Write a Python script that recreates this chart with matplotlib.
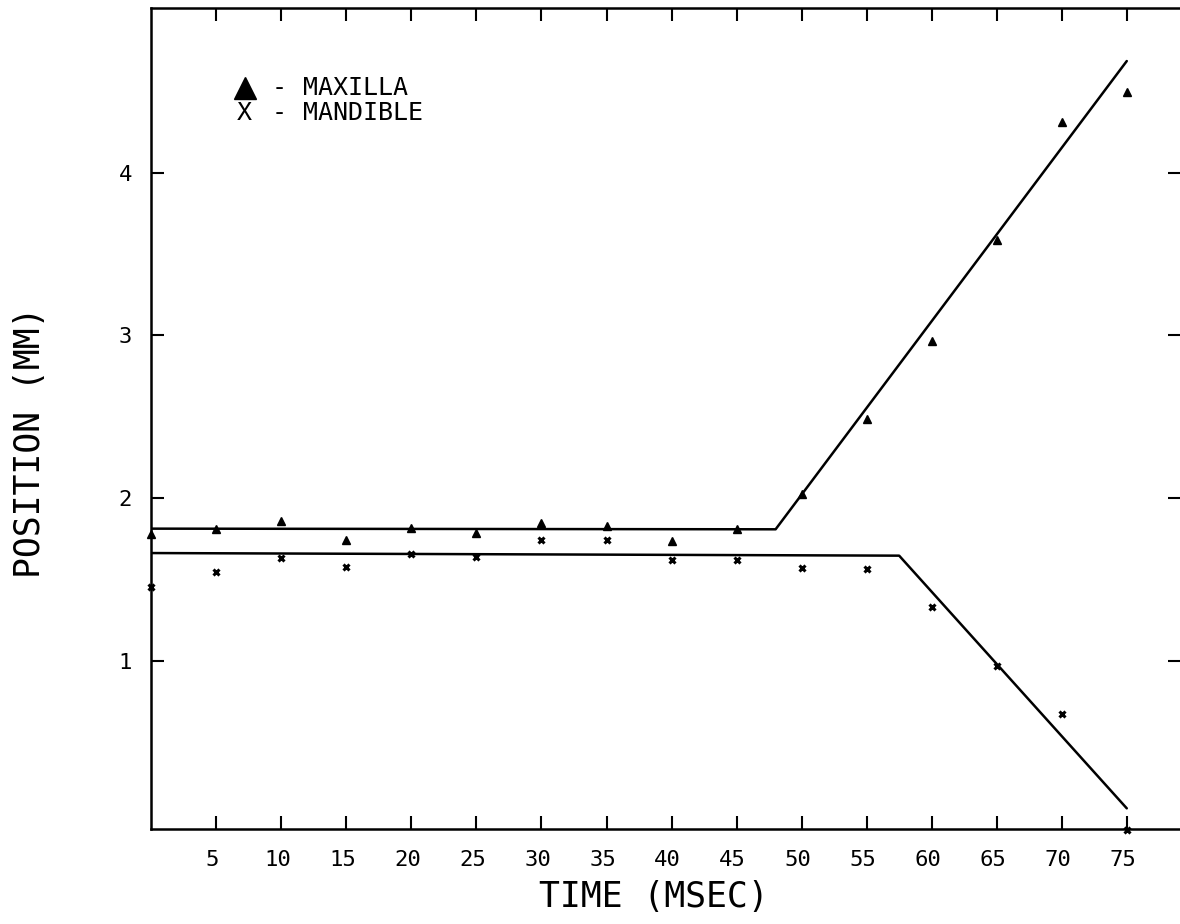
import matplotlib
matplotlib.use("Agg")
import matplotlib.pyplot as plt
from matplotlib.ticker import FixedLocator
from matplotlib.transforms import ScaledTranslation

# Jaw position over time
time_ms = [0, 5, 10, 15, 20, 25, 30, 35, 40, 45, 50, 55, 60, 65, 70, 75]
maxilla_mm = [1.777, 1.809, 1.859, 1.742, 1.814, 1.787, 1.848, 1.828,
              1.736, 1.809, 2.023, 2.484, 2.965, 3.586, 4.309, 4.494]
mandible_mm = [1.451, 1.545, 1.629, 1.574, 1.654, 1.639, 1.740, 1.740,
               1.619, 1.619, 1.568, 1.564, 1.332, 0.967, 0.672, -0.04]

# Piecewise linear fits (break points)
maxilla_fit_t = [0, 48, 75]
maxilla_fit_mm = [1.812, 1.808, 4.686]
mandible_fit_t = [0, 57.5, 75]
mandible_fit_mm = [1.662, 1.646, 0.093]

x_ticks = [5, 10, 15, 20, 25, 30, 35, 40, 45, 50, 55, 60, 65, 70, 75]
y_ticks = [1, 2, 3, 4]

MONO = "DejaVu Sans Mono"
plt.rcParams["font.family"] = MONO

W, H = 1180, 924
fig = plt.figure(figsize=(W / 100, H / 100), dpi=100)
fig.patch.set_facecolor("white")

left_px, right_px, bottom_px, top_px = 151.3, 1181.4, 829, 8
ax = fig.add_axes([left_px / W, (H - bottom_px) / H,
                   (right_px - left_px) / W, (bottom_px - top_px) / H])
ax.set_xlim(0, 79.2)
ax.set_ylim(-0.034, 5.012)

# Fitted lines
ax.plot(maxilla_fit_t, maxilla_fit_mm, color="black", lw=1.8, solid_capstyle="round")
ax.plot(mandible_fit_t, mandible_fit_mm, color="black", lw=1.8, solid_capstyle="round")

# Observations
ax.plot(time_ms, maxilla_mm, linestyle="none", marker="^", ms=5.5,
        color="black", clip_on=False, zorder=4)
ax.plot(time_ms, mandible_mm, linestyle="none", marker="x", ms=4.5, mew=2.2,
        color="black", clip_on=False, zorder=4)

# Frame and ticks
for side in ("left", "bottom", "top"):
    ax.spines[side].set_linewidth(1.8)
ax.spines["right"].set_visible(False)

ax.xaxis.set_major_locator(FixedLocator(x_ticks))
ax.yaxis.set_major_locator(FixedLocator(y_ticks))
ax.set_xticklabels([str(v) for v in x_ticks])
ax.set_yticklabels([str(v) for v in y_ticks])
ax.tick_params(axis="x", which="major", direction="in", length=9.5, width=1.5,
               top=True, bottom=True, labelsize=16, pad=15)
ax.tick_params(axis="y", which="major", direction="in", length=9.5, width=1.5,
               left=True, right=True, labelsize=16, pad=14)

# Time labels sit slightly left of their ticks
shift = ScaledTranslation(-4 / 100, 0, fig.dpi_scale_trans)
for lab in ax.get_xticklabels():
    lab.set_transform(lab.get_transform() + shift)

ax.set_xlabel("TIME (MSEC)", fontsize=25, va="center")
ax.xaxis.set_label_coords(0.488, -0.0834)
ax.set_ylabel("POSITION (MM)", fontsize=25, va="center")
ax.yaxis.set_label_coords(-0.1178, 0.4708)

# Key
tr = ax.transAxes
ax.plot([0.091], [0.9025], marker="^", ms=16, color="black",
        transform=tr, clip_on=False, linestyle="none")
ax.text(0.124, 0.9025, "-", transform=tr, fontsize=18, ha="center", va="center")
ax.text(0.1473, 0.9025, "MAXILLA", transform=tr, fontsize=18, ha="left", va="center")
ax.text(0.090, 0.8727, "X", transform=tr, fontsize=18, ha="center", va="center")
ax.text(0.124, 0.8727, "-", transform=tr, fontsize=18, ha="center", va="center")
ax.text(0.1473, 0.8727, "MANDIBLE", transform=tr, fontsize=18, ha="left", va="center")

fig.savefig("out.png", dpi=100, facecolor="white")
